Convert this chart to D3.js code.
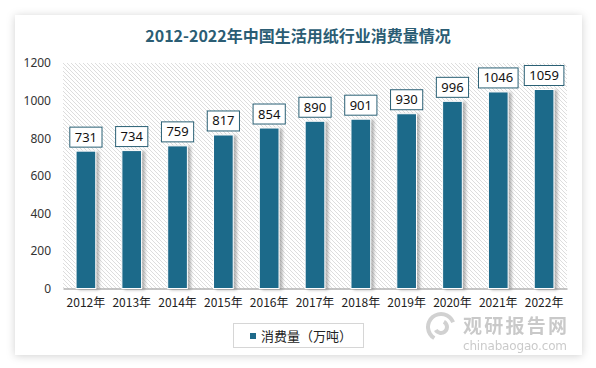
<!DOCTYPE html>
<html>
<head>
<meta charset="utf-8">
<script src="https://d3js.org/d3.v7.min.js"></script>
<style>
  body { margin: 0; background: #fff; }
  svg { display: block; font-family: "Noto Sans CJK SC", "Noto Sans", sans-serif; }
</style>
</head>
<body>
<svg id="chart" width="596" height="368"></svg>
<script>
// data
var years = ["2012年", "2013年", "2014年", "2015年", "2016年", "2017年", "2018年", "2019年", "2020年", "2021年", "2022年"];
var consumption = [731, 734, 759, 817, 854, 890, 901, 930, 996, 1046, 1059];
var yTicks = [0, 200, 400, 600, 800, 1000, 1200];
var seriesName = "消费量（万吨）";
var title = "2012-2022年中国生活用纸行业消费量情况";

var svg = d3.select("#chart");
var defs = svg.append("defs");

// card shadow
var cs = defs.append("filter").attr("id", "cardShadow")
  .attr("x", "-5%").attr("y", "-5%").attr("width", "110%").attr("height", "110%");
cs.append("feDropShadow").attr("dx", 0).attr("dy", 1).attr("stdDeviation", 4)
  .attr("flood-color", "#000").attr("flood-opacity", 0.18);

// bar shadow
var bs = defs.append("filter").attr("id", "barShadow")
  .attr("x", "-30%").attr("y", "-10%").attr("width", "160%").attr("height", "120%");
bs.append("feDropShadow").attr("dx", 3).attr("dy", 1).attr("stdDeviation", 1.5)
  .attr("flood-color", "#777").attr("flood-opacity", 0.55);

// hatch
var pat = defs.append("pattern").attr("id", "hatch")
  .attr("patternUnits", "userSpaceOnUse").attr("width", 4).attr("height", 4);
pat.append("rect").attr("width", 4).attr("height", 4).attr("fill", "#fff");
pat.append("path").attr("d", "M-1,-1 L5,5 M-1,3 L1,5 M3,-1 L5,1")
  .attr("stroke", "#d4d4d4").attr("stroke-width", 0.8);

svg.append("rect").attr("x", 15).attr("y", 15).attr("width", 567).attr("height", 340)
  .attr("fill", "#fff").attr("filter", "url(#cardShadow)");

svg.append("text").attr("x", 298).attr("y", 42).attr("text-anchor", "middle")
  .attr("font-size", 16).attr("font-weight", "bold").attr("fill", "#2b5d74")
  .text(title);

// watermark (behind everything else)
var wm = svg.append("g").attr("opacity", 0.45);
wm.append("path").attr("d", d3.arc()({innerRadius: 11, outerRadius: 15, startAngle: -2.6, endAngle: 1.2}))
  .attr("transform", "translate(441,327)").attr("fill", "#9a9a9a");
wm.append("path").attr("d", d3.arc()({innerRadius: 4, outerRadius: 8, startAngle: 0.5, endAngle: 4.2}))
  .attr("transform", "translate(441,327)").attr("fill", "#9a9a9a");
wm.append("text").attr("x", 463).attr("y", 333).attr("font-size", 19).attr("font-weight", "bold")
  .attr("fill", "#8a8a8a").attr("textLength", 104).text("观研报告网");
wm.append("text").attr("x", 463).attr("y", 350).attr("font-size", 12)
  .attr("font-family", "'DejaVu Sans', sans-serif")
  .attr("fill", "#8a8a8a").attr("textLength", 104).text("chinabaogao.com");

var margin = {left: 63, right: 567, top: 63, bottom: 288.5};

var x = d3.scaleBand().domain(years).range([margin.left, margin.right]).paddingInner(0.57).paddingOuter(0.285);
var y = d3.scaleLinear().domain([0, 1200]).range([margin.bottom, margin.top]);

svg.append("rect").attr("x", margin.left).attr("y", margin.top)
  .attr("width", margin.right - margin.left).attr("height", margin.bottom - margin.top)
  .attr("fill", "url(#hatch)");

// y axis labels
var yAxis = d3.axisLeft(y).tickValues(yTicks).tickSize(0).tickPadding(12).tickFormat(d3.format("d"));
var gy = svg.append("g").attr("transform", "translate(" + margin.left + ",0)").call(yAxis);
gy.select(".domain").remove();
gy.selectAll("text").attr("font-size", 12).attr("fill", "#333")
  .attr("font-family", "'Noto Sans', sans-serif");

// x axis
var xAxis = d3.axisBottom(x).tickSize(0).tickPadding(10);
var gx = svg.append("g").attr("transform", "translate(0," + margin.bottom + ")").call(xAxis);
gx.select(".domain").attr("stroke", "#8c8c8c");
gx.selectAll("text").attr("font-size", 12).attr("fill", "#222")
  .attr("font-family", "'Noto Sans CJK SC', sans-serif");

// bars
svg.append("g").selectAll("rect").data(consumption).enter().append("rect")
  .attr("x", function(d, i) { return x(years[i]); })
  .attr("y", function(d) { return y(d); })
  .attr("width", x.bandwidth())
  .attr("height", function(d) { return margin.bottom - y(d); })
  .attr("fill", "#1f6a8a")
  .attr("stroke", "#fff").attr("stroke-width", 1)
  .attr("filter", "url(#barShadow)");

// value labels
var lab = svg.append("g").selectAll("g").data(consumption).enter().append("g")
  .attr("transform", function(d, i) {
    return "translate(" + (x(years[i]) + x.bandwidth() / 2) + "," + (y(d) - 4) + ")";
  });
lab.append("rect")
  .attr("x", function(d) { return -(String(d).length * 7.4 + 10) / 2; })
  .attr("y", -20)
  .attr("width", function(d) { return String(d).length * 7.4 + 10; })
  .attr("height", 20)
  .attr("fill", "#fff").attr("stroke", "#2a6075").attr("stroke-width", 1);
lab.append("text").attr("y", -5.5).attr("text-anchor", "middle")
  .attr("font-size", 13).attr("fill", "#111")
  .attr("font-family", "'Noto Sans', sans-serif")
  .text(function(d) { return d; });

// legend
var lg = svg.append("g");
lg.append("rect").attr("x", 233.5).attr("y", 323.5).attr("width", 130).attr("height", 24)
  .attr("fill", "#fff").attr("stroke", "#d6d6d6");
lg.append("rect").attr("x", 250).attr("y", 333).attr("width", 6).attr("height", 6).attr("fill", "#1f6a8a");
lg.append("text").attr("x", 261).attr("y", 340.5).attr("font-size", 13).attr("fill", "#222")
  .text(seriesName);
</script>
</body>
</html>
